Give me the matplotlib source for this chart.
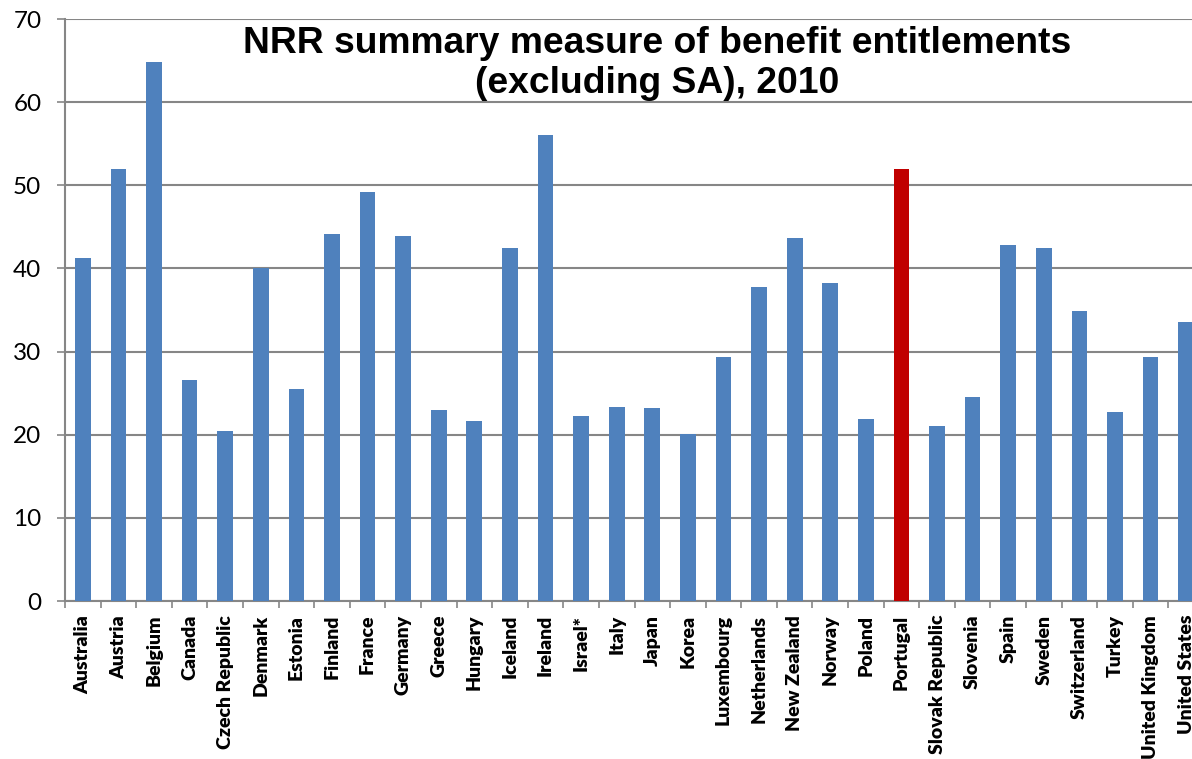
import numpy as np
import matplotlib
matplotlib.use("Agg")
import matplotlib.pyplot as plt

countries = ["Australia", "Austria", "Belgium", "Canada", "Czech Republic", "Denmark",
             "Estonia", "Finland", "France", "Germany", "Greece", "Hungary", "Iceland",
             "Ireland", "Israel*", "Italy", "Japan", "Korea", "Luxembourg", "Netherlands",
             "New Zealand", "Norway", "Poland", "Portugal", "Slovak Republic", "Slovenia",
             "Spain", "Sweden", "Switzerland", "Turkey", "United Kingdom", "United States"]
nrr = [41.2, 51.9, 64.8, 26.6, 20.4, 40.1, 25.5, 44.1, 49.2, 43.9, 23.0, 21.7, 42.5,
       56.0, 22.2, 23.3, 23.2, 20.1, 29.4, 37.8, 43.6, 38.3, 21.9, 51.9, 21.1, 24.5,
       42.8, 42.5, 34.9, 22.7, 29.3, 33.5]
highlight = "Portugal"

blue = "#4F81BD"
red = "#C00000"
grid_col = "#868686"

fig = plt.figure(figsize=(11.92, 7.59), dpi=100)
ax = fig.add_axes([65 / 1192, 158 / 759, 1139 / 1192, 582 / 759])

x = np.arange(len(countries))
colors = [red if c == highlight else blue for c in countries]
ax.bar(x, nrr, width=0.44, color=colors, zorder=3)

ax.set_xlim(-0.5, len(countries) - 0.5)
ax.set_ylim(0, 70)
ax.set_yticks(np.arange(0, 71, 10))
ax.set_yticklabels([str(v) for v in range(0, 71, 10)], fontsize=17.5, family="Lato")
ax.yaxis.grid(True, color=grid_col, linewidth=1.5, zorder=0)
ax.tick_params(axis="y", length=6, width=1.2, color=grid_col, pad=11)

ax.set_xticks(x)
ax.set_xticklabels(countries, rotation=90, fontsize=14, fontweight="heavy", family="Lato")
ax.tick_params(axis="x", length=0, pad=10)
ax.set_xticks(np.arange(-0.5, len(countries), 1), minor=True)
ax.tick_params(axis="x", which="minor", length=5, width=1.2, color=grid_col)

for s in ["top", "right"]:
    ax.spines[s].set_visible(False)
for s in ["left", "bottom"]:
    ax.spines[s].set_color(grid_col)
    ax.spines[s].set_linewidth(1.5)

fig.text(0.551, 0.966, "NRR summary measure of benefit entitlements\n(excluding SA), 2010",
         ha="center", va="top", fontsize=26.8, fontweight="bold",
         family="Liberation Sans", linespacing=1.2)

fig.savefig("out.png", dpi=100)
